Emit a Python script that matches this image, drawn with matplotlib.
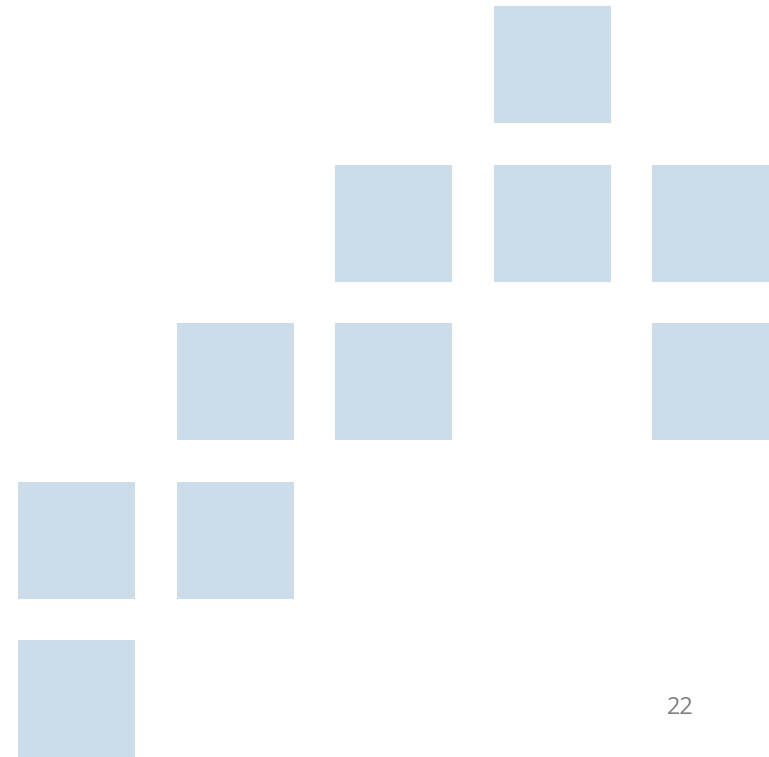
import matplotlib
matplotlib.use("Agg")
import matplotlib.pyplot as plt
from matplotlib.patches import Rectangle

# Filled grid cells (row, column), row 0 at top
rows = [0, 1, 1, 1, 2, 2, 2, 3, 3, 4]
cols = [3, 2, 3, 4, 1, 2, 4, 0, 1, 0]
page_label = "22"

W, H, DPI = 769, 757, 100
pitch = 158.5
size = 117 / pitch
x0 = -18 / pitch
y0 = -6 / pitch

fig = plt.figure(figsize=(W / DPI, H / DPI), dpi=DPI)
ax = fig.add_axes([0, 0, 1, 1])
ax.set_xlim(x0, x0 + W / pitch)
ax.set_ylim(y0 + H / pitch, y0)
ax.axis("off")

for r, c in zip(rows, cols):
    ax.add_patch(Rectangle((c, r), size, size, facecolor="#CDDCE9", edgecolor="none"))

ax.text(x0 + 680.5 / pitch, y0 + 708 / pitch, page_label, ha="center", va="center",
        fontsize=17, color="#7F7F7F", family="Open Sans")

fig.savefig("out.png", dpi=DPI)
